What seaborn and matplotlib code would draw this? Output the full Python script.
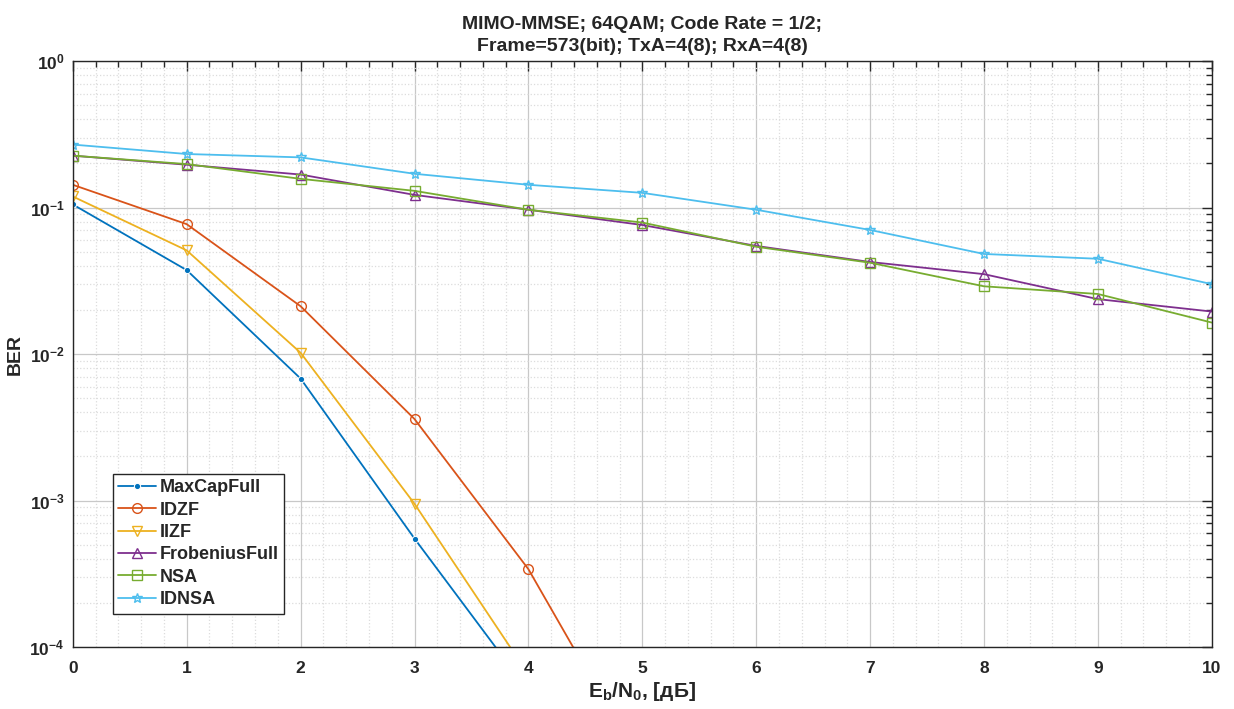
import matplotlib
matplotlib.use("Agg")
import matplotlib.pyplot as plt
import seaborn as sns
import pandas as pd
from matplotlib.ticker import LogLocator, MultipleLocator, NullFormatter

# Eb/N0, dB
snr = [0, 1, 2, 3, 4, 5, 6, 7, 8, 9, 10]

# BER curves (the steep ones go below 1e-4 and get clipped)
max_cap_full = [0.105, 0.0374, 0.0068, 5.5e-4, 5e-5]
idzf = [0.143, 0.077, 0.0212, 0.0036, 3.4e-4, 1.5e-5]
iizf = [0.119, 0.051, 0.0102, 9.5e-4, 6.5e-5]
frobenius_full = [0.226, 0.196, 0.168, 0.122, 0.0966, 0.076, 0.0547, 0.0425, 0.0351, 0.0237, 0.0195]
nsa = [0.226, 0.198, 0.157, 0.130, 0.0966, 0.079, 0.054, 0.042, 0.029, 0.0257, 0.0164]
idnsa = [0.269, 0.232, 0.220, 0.170, 0.143, 0.126, 0.0966, 0.0703, 0.0482, 0.0447, 0.030]

series = [
    ("MaxCapFull", max_cap_full, "#0072BD", "."),
    ("IDZF", idzf, "#D95319", "o"),
    ("IIZF", iizf, "#EDB120", "v"),
    ("FrobeniusFull", frobenius_full, "#7E2F8E", "^"),
    ("NSA", nsa, "#77AC30", "s"),
    ("IDNSA", idnsa, "#4DBEEE", "*"),
]

sns.set_style("white")
plt.rcParams["font.family"] = ["Liberation Sans", "DejaVu Sans"]
plt.rcParams["font.weight"] = "bold"
plt.rcParams["mathtext.fontset"] = "custom"
plt.rcParams["mathtext.rm"] = "Liberation Sans:bold"
plt.rcParams["mathtext.bf"] = "Liberation Sans:bold"
plt.rcParams["mathtext.it"] = "Liberation Sans:bold:italic"

fig = plt.figure(figsize=(12.34, 7.09), dpi=100)
ax = fig.add_axes([0.059, 0.0874, 0.923, 0.8265])

for name, vals, col, mk in series:
    df = pd.DataFrame({"snr": snr[:len(vals)], "ber": vals})
    if mk == ".":
        sns.lineplot(data=df, x="snr", y="ber", ax=ax, color=col, marker=mk,
                     markersize=9, linewidth=1.3, label=name)
    else:
        sns.lineplot(data=df, x="snr", y="ber", ax=ax, color=col, marker=mk,
                     markersize=7, markerfacecolor="none", markeredgecolor=col,
                     markeredgewidth=1.0, linewidth=1.3, label=name)

ax.set_yscale("log")
ax.set_xlim(0, 10)
ax.set_ylim(1e-4, 1)
ax.xaxis.set_major_locator(MultipleLocator(1))
ax.xaxis.set_minor_locator(MultipleLocator(0.2))
ax.yaxis.set_major_locator(LogLocator(base=10, numticks=10))
ax.yaxis.set_minor_locator(LogLocator(base=10, subs=range(2, 10), numticks=10))
ax.yaxis.set_minor_formatter(NullFormatter())

ax.grid(which="major", color="#c8c8c8", linestyle="-", linewidth=0.9)
ax.grid(which="minor", color="#dcdcdc", linestyle=":", linewidth=0.9)
ax.set_axisbelow(True)

ax.tick_params(which="both", direction="in", top=True, right=True,
               labelsize=12.5, colors="#262626", width=1.0)
ax.tick_params(which="major", length=7)
ax.tick_params(which="minor", length=4)
ax.tick_params(axis="x", which="major", pad=10)
ax.tick_params(axis="y", which="major", pad=6)
for sp in ax.spines.values():
    sp.set_color("#262626")
    sp.set_linewidth(1.0)

ax.set_xlabel(r"E$_\mathbf{b}$/N$_\mathbf{0}$, [дБ]", fontsize=15, fontweight="bold", labelpad=3)
ax.set_ylabel("BER", fontsize=14, fontweight="bold", labelpad=4)
ax.set_title("MIMO-MMSE; 64QAM; Code Rate = 1/2;\nFrame=573(bit); TxA=4(8); RxA=4(8)",
             fontsize=14, fontweight="bold", pad=7, linespacing=1.4)

leg = ax.legend(loc="lower left", bbox_to_anchor=(0.035, 0.057), borderaxespad=0,
                fontsize=13, frameon=True, fancybox=False, framealpha=1,
                edgecolor="#262626", handlelength=2.1, labelspacing=0.3,
                borderpad=0.3, handletextpad=0.2)
leg.get_frame().set_linewidth(1.0)
for t in leg.get_texts():
    t.set_fontweight("bold")

fig.savefig("out.png", dpi=100, facecolor="white")
